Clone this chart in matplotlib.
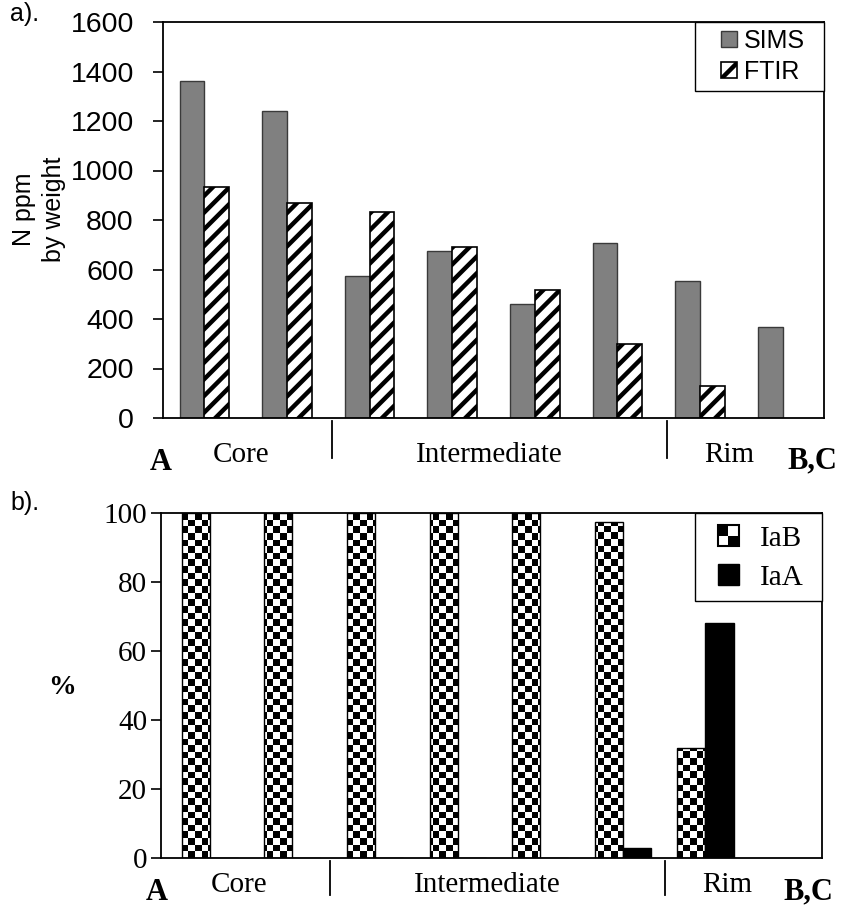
import numpy as np
import matplotlib
matplotlib.use('Agg')
import matplotlib.pyplot as plt
from matplotlib.patches import Rectangle
from matplotlib.legend_handler import HandlerBase
import matplotlib.transforms as mtransforms

# ---------------- data ----------------
samples = list(range(8))
sims = [1362, 1240, 574, 675, 461, 707, 553, 368]
ftir = [933, 869, 832, 691, 517, 299, 129, np.nan]
iab = [100, 100, 100, 100, 100, 97.5, 32, np.nan]
iaa = [0, 0, 0, 0, 0, 2.9, 68, np.nan]
yticks_a = [0, 200, 400, 600, 800, 1000, 1200, 1400, 1600]
yticks_b = [0, 20, 40, 60, 80, 100]
region_names = ['Core', 'Intermediate', 'Rim']
region_label_x = [0.45, 3.45, 6.35]
region_dividers = [1.55, 5.6]

SANS = 'Liberation Sans'
SERIF = 'Liberation Serif'
plt.rcParams['hatch.linewidth'] = 3.2

W, H = 842, 906
fig = plt.figure(figsize=(W / 100, H / 100), dpi=100)

def fx(px):
    return px / W

def fy(py):
    return 1 - py / H

ax1 = fig.add_axes([fx(163), fy(418), fx(824) - fx(163), fy(22) - fy(418)])
ax2 = fig.add_axes([fx(161), fy(858), fx(822) - fx(161), fy(513) - fy(858)])

x = np.array(samples, dtype=float)


class SquareHandler(HandlerBase):
    """Square legend key drawn at the right end of the handle box."""
    def __init__(self, checker=False):
        super().__init__()
        self.checker = checker

    def create_artists(self, legend, orig_handle, xdescent, ydescent, width, height, fontsize, trans):
        s = height
        x0 = -xdescent + width - s
        y0 = -ydescent
        if self.checker:
            h = s / 2
            return [
                Rectangle((x0, y0), s, s, facecolor='white', edgecolor='none', transform=trans),
                Rectangle((x0, y0 + h), h, h, facecolor='black', edgecolor='none', transform=trans),
                Rectangle((x0 + h, y0), h, h, facecolor='black', edgecolor='none', transform=trans),
                Rectangle((x0, y0), s, s, facecolor='none', edgecolor='black', linewidth=1.5, transform=trans),
            ]
        r = Rectangle((x0, y0), s, s, facecolor=orig_handle.get_facecolor(),
                      edgecolor=orig_handle.get_edgecolor(), linewidth=orig_handle.get_linewidth(),
                      hatch=orig_handle.get_hatch(), transform=trans)
        return [r]


def legend_frame(ax, x0, y0):
    fr = Rectangle((x0, y0), 1 - x0, 1 - y0, transform=ax.transAxes, facecolor='white',
                   edgecolor='black', linewidth=1.0, zorder=4, clip_on=False)
    ax.add_patch(fr)


# ---------------- panel a ----------------
bw = 0.30
ax1.bar(x - 0.15, sims, bw, color='#808080', edgecolor='#3a3a3a', linewidth=1.0, zorder=2)
ax1.bar(x + 0.15, ftir, bw, color='white', edgecolor='black', hatch='//', linewidth=1.2, zorder=2)
ax1.set_xlim(-0.5, 7.5)
ax1.set_ylim(0, 1600)
ax1.set_yticks(yticks_a)
ax1.set_yticklabels([str(v) for v in yticks_a], fontfamily=SANS, fontsize=20.5)
ax1.set_xticks([])
ax1.tick_params(axis='y', direction='out', length=7, width=1.2, pad=14)
for s in ax1.spines.values():
    s.set_linewidth(1.3)

leg1_x, leg1_y = 0.805, 0.826
legend_frame(ax1, leg1_x, leg1_y)
h_sims = Rectangle((0, 0), 1, 1, facecolor='#808080', edgecolor='#3a3a3a', linewidth=1.0)
h_ftir = Rectangle((0, 0), 1, 1, facecolor='white', edgecolor='black', linewidth=1.2, hatch='/')
leg1 = ax1.legend(handles=[h_sims, h_ftir], labels=['SIMS', 'FTIR'], loc='upper left',
                  bbox_to_anchor=(leg1_x, 1), borderaxespad=0, frameon=False,
                  prop={'family': SANS, 'size': 18}, handlelength=1.4,
                  handleheight=0.6, handletextpad=0.28, borderpad=0.28, labelspacing=0.28,
                  handler_map={h_sims: SquareHandler(), h_ftir: SquareHandler()})
leg1.set_zorder(5)

# ---------------- panel b ----------------
bw2 = 0.34
b_iab = ax2.bar(x - 0.08, iab, bw2, facecolor='none', edgecolor='black', linewidth=1.0, zorder=3)
ax2.bar(x - 0.08 + bw2, iaa, bw2, color='black', edgecolor='black', linewidth=1.0, zorder=3)

# checkerboard texture for IaB bars
cell = 6.6
nx = int(round(661 / cell))
ny = int(round(345 / cell))
checker = (np.add.outer(np.arange(ny), np.arange(nx)) % 2).astype(float)
for rect in b_iab:
    im = ax2.imshow(checker, cmap='gray', vmin=0, vmax=1, extent=[-0.5, 7.5, 0, 100],
                    aspect='auto', interpolation='nearest', zorder=2, origin='lower')
    im.set_clip_path(rect)
ax2.set_xlim(-0.5, 7.5)
ax2.set_ylim(0, 100)

ax2.set_yticks(yticks_b)
ax2.set_yticklabels([str(v) for v in yticks_b], fontfamily=SERIF, fontsize=21)
ax2.set_xticks([])
ax2.tick_params(axis='y', direction='out', length=7, width=1.2, pad=3)
for s in ax2.spines.values():
    s.set_linewidth(1.3)

leg2_x, leg2_y = 0.808, 0.745
legend_frame(ax2, leg2_x, leg2_y)
h_iab = Rectangle((0, 0), 1, 1, facecolor='white', edgecolor='black')
h_iaa = Rectangle((0, 0), 1, 1, facecolor='black', edgecolor='black')
leg2 = ax2.legend(handles=[h_iab, h_iaa], labels=['IaB', 'IaA'], loc='upper left',
                  bbox_to_anchor=(leg2_x, 1), borderaxespad=0, frameon=False,
                  prop={'family': SERIF, 'size': 21}, handlelength=1.07,
                  handleheight=0.72, handletextpad=0.72, borderpad=0.42, labelspacing=0.42,
                  handler_map={h_iab: SquareHandler(checker=True), h_iaa: SquareHandler()})
leg2.set_zorder(5)

# ---------------- region annotations ----------------
for ax, ytxt, ybot in [(ax1, -0.093, -0.10), (ax2, -0.078, -0.107)]:
    tr = mtransforms.blended_transform_factory(ax.transData, ax.transAxes)
    for name, xl in zip(region_names, region_label_x):
        ax.text(xl, ytxt, name, transform=tr, ha='center', va='center',
                fontfamily=SERIF, fontsize=21, clip_on=False)
    for xd in region_dividers:
        ax.plot([xd, xd], [-0.008, ybot], transform=tr, color='black', lw=1.3, clip_on=False)

fig.text(fx(161), fy(463), 'A', ha='center', va='center', fontfamily=SERIF, fontweight='bold', fontsize=22)
fig.text(fx(812), fy(461), 'B,C', ha='center', va='center', fontfamily=SERIF, fontweight='bold', fontsize=22)
fig.text(fx(157), fy(892), 'A', ha='center', va='center', fontfamily=SERIF, fontweight='bold', fontsize=22)
fig.text(fx(808), fy(892), 'B,C', ha='center', va='center', fontfamily=SERIF, fontweight='bold', fontsize=22)

fig.text(fx(39), fy(209), 'N ppm\nby weight', rotation=90, ha='center', va='center',
         multialignment='center', fontfamily=SANS, fontsize=18, linespacing=1.35)
fig.text(fx(62), fy(687), '%', ha='center', va='center', fontfamily=SERIF, fontweight='bold', fontsize=20)
fig.text(fx(10), fy(14), 'a).', ha='left', va='center', fontfamily=SANS, fontsize=18)
fig.text(fx(10), fy(503), 'b).', ha='left', va='center', fontfamily=SANS, fontsize=18)

fig.savefig('out.png', dpi=100)
